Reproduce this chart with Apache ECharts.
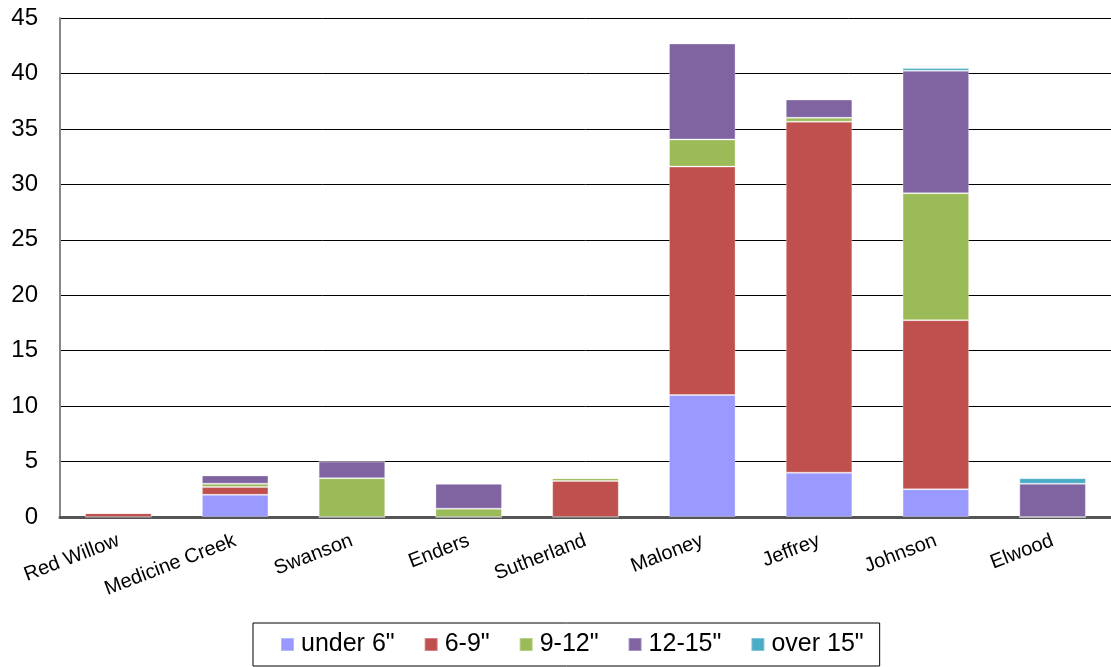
<!DOCTYPE html>
<html>
<head>
<meta charset="utf-8">
<script src="https://cdn.jsdelivr.net/npm/echarts@6/dist/echarts.min.js"></script>
<style>
  html, body { margin: 0; padding: 0; background: #fff; }
  #chart { width: 1111px; height: 667px; }
</style>
</head>
<body>
<div id="chart"></div>
<script>
// Sites along the river and fish counts by length class
const sites = ['Red Willow', 'Medicine Creek', 'Swanson', 'Enders', 'Sutherland', 'Maloney', 'Jeffrey', 'Johnson', 'Elwood'];
const under6 = [0, 2.0, 0, 0, 0, 11.0, 4.0, 2.5, 0];
const from6to9 = [0.35, 0.7, 0, 0, 3.25, 20.6, 31.65, 15.25, 0];
const from9to12 = [0, 0.3, 3.5, 0.75, 0.25, 2.45, 0.35, 11.45, 0];
const from12to15 = [0, 0.75, 1.5, 2.25, 0, 8.65, 1.65, 11.05, 3.0];
const over15 = [0, 0, 0, 0, 0, 0, 0, 0.25, 0.5];
const yTicks = { min: 0, max: 45, interval: 5 };

const seriesDefs = [
  { name: 'under 6"', data: under6, color: '#9999FF' },
  { name: '6-9"', data: from6to9, color: '#C0504D' },
  { name: '9-12"', data: from9to12, color: '#9BBB59' },
  { name: '12-15"', data: from12to15, color: '#8064A2' },
  { name: 'over 15"', data: over15, color: '#4BACC6' }
];

const chart = echarts.init(document.getElementById('chart'), null, { renderer: 'canvas' });
chart.setOption({
  animation: false,
  textStyle: { fontFamily: 'Liberation Sans, Arial, sans-serif' },
  grid: { left: 60, right: 0, top: 18, bottom: 150 },
  legend: {
    bottom: 1,
    left: 253,
    itemWidth: 13,
    itemHeight: 13,
    itemGap: 29,
    padding: [9, 16, 9, 27],
    borderColor: '#000',
    borderWidth: 1,
    borderRadius: 0,
    icon: 'rect',
    textStyle: { fontSize: 25, color: '#000', padding: [0, 0, 0, 2] },
    data: seriesDefs.map(s => s.name)
  },
  xAxis: {
    type: 'category',
    data: sites,
    axisLine: { lineStyle: { color: '#555', width: 3 } },
    axisTick: { show: false },
    axisLabel: {
      rotate: 21,
      interval: 0,
      fontSize: 20,
      color: '#000',
      margin: 23
    }
  },
  yAxis: {
    type: 'value',
    min: yTicks.min,
    max: yTicks.max,
    interval: yTicks.interval,
    axisLine: { show: true, lineStyle: { color: '#888', width: 2 } },
    axisTick: { show: false },
    axisLabel: { fontSize: 24, color: '#000', margin: 22 },
    splitLine: { lineStyle: { color: '#000', width: 1 } }
  },
  series: seriesDefs.map(s => ({
    name: s.name,
    type: 'bar',
    stack: 'total',
    barWidth: '57%',
    data: s.data,
    itemStyle: { color: s.color, borderColor: 'rgba(255,255,255,0.3)', borderWidth: 1 }
  }))
});
</script>
</body>
</html>
